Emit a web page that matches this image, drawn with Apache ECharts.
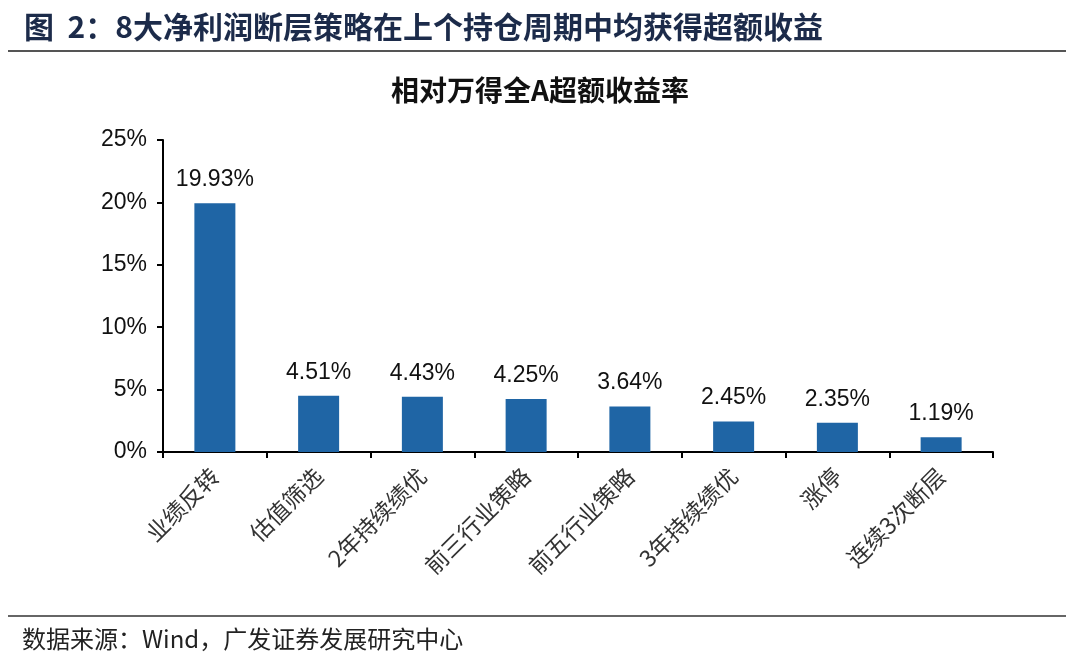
<!DOCTYPE html>
<html><head><meta charset="utf-8">
<script src="https://cdn.jsdelivr.net/npm/echarts@6/dist/echarts.min.js"></script>
<style>html,body{margin:0;padding:0;background:#fff}#c{width:1080px;height:667px}</style>
</head><body><div id="c"></div>
<script>
const categories = ['业绩反转','估值筛选','2年持续绩优','前三行业策略','前五行业策略','3年持续绩优','涨停','连续3次断层'];
const values = [19.93, 4.51, 4.43, 4.25, 3.64, 2.45, 2.35, 1.19];
const yTicks = [0, 5, 10, 15, 20, 25];

const chart = echarts.init(document.getElementById('c'));
const cjk = '"Noto Sans CJK SC", "Liberation Sans", sans-serif';
const lat = '"Liberation Sans", Arial, sans-serif';
chart.setOption({
  animation: false,
  backgroundColor: '#fff',
  title: [
    { text: '图  2：8大净利润断层策略在上个持仓周期中均获得超额收益', left: 24, top: 12, padding: 0,
      textStyle: { fontFamily: cjk, fontSize: 30, fontWeight: 'bold', color: '#1c2b4a' } },
    { text: '相对万得全A超额收益率', left: 'center', top: 76, padding: 0,
      textStyle: { fontFamily: cjk, fontSize: 28, fontWeight: 'bold', color: '#111' } },
    { text: '数据来源：Wind，广发证券发展研究中心', left: 22, top: 627, padding: 0,
      textStyle: { fontFamily: cjk, fontSize: 24, fontWeight: 'normal', color: '#222' } }
  ],
  graphic: [
    { type: 'line', shape: { x1: 8, y1: 51, x2: 1066, y2: 51 }, style: { stroke: '#555', lineWidth: 2 } },
    { type: 'line', shape: { x1: 8, y1: 616, x2: 1066, y2: 616 }, style: { stroke: '#333', lineWidth: 1.5 } }
  ],
  grid: { left: 163, right: 87, top: 140, bottom: 215, containLabel: false },
  xAxis: {
    type: 'category', data: categories,
    axisLine: { lineStyle: { color: '#000', width: 2 } },
    axisTick: { show: true, alignWithLabel: false, length: 6, lineStyle: { color: '#000', width: 2 } },
    axisLabel: { rotate: 45, margin: 20, fontFamily: cjk, fontSize: 23, color: '#333', interval: 0 }
  },
  yAxis: {
    type: 'value', min: 0, max: 25, interval: 5,
    axisLine: { show: true, lineStyle: { color: '#000', width: 2 } },
    axisTick: { show: true, length: 6, inside: false, lineStyle: { color: '#000', width: 2 } },
    splitLine: { show: false },
    axisLabel: { fontFamily: lat, fontSize: 23, color: '#111', margin: 16,
      formatter: v => yTicks.includes(v) ? v + '%' : '' }
  },
  series: [{
    type: 'bar', data: values, barWidth: 41,
    itemStyle: { color: '#1f65a5' },
    label: { show: true, position: 'top', distance: 12, fontFamily: lat, fontSize: 23, color: '#111',
      formatter: p => p.value.toFixed(2) + '%' }
  }]
});
</script></body></html>
